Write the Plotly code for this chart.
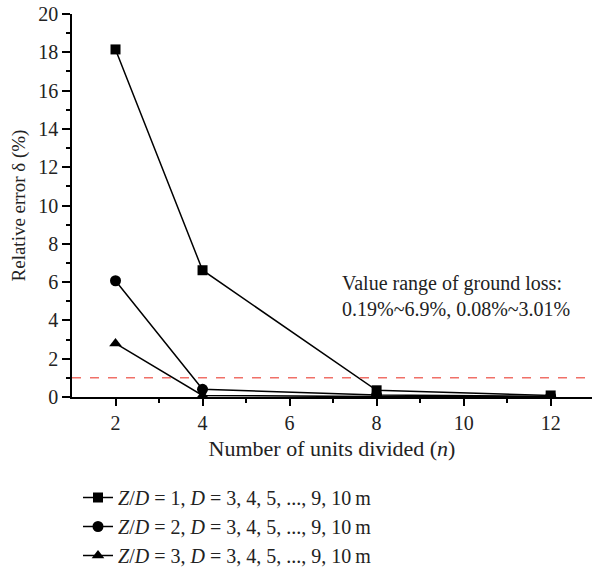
import plotly.graph_objects as go

n_units = [2, 4, 8, 12]
err_zd1 = [18.15, 6.62, 0.35, 0.08]
err_zd2 = [6.07, 0.40, 0.10, 0.03]
err_zd3 = [2.80, 0.08, 0.02, 0.01]
threshold = 1.0
names = [
    "<i>Z</i>/<i>D</i> = 1, <i>D</i> = 3, 4, 5, ..., 9, 10\u2009m",
    "<i>Z</i>/<i>D</i> = 2, <i>D</i> = 3, 4, 5, ..., 9, 10\u2009m",
    "<i>Z</i>/<i>D</i> = 3, <i>D</i> = 3, 4, 5, ..., 9, 10\u2009m",
]
symbols = ["square", "circle", "triangle-up"]
sizes = [10, 11, 11]

FONT = "Liberation Serif"
fig = go.Figure()
for ys, nm, sym, sz in zip([err_zd1, err_zd2, err_zd3], names, symbols, sizes):
    fig.add_trace(go.Scatter(
        x=n_units, y=ys, name=nm, mode="lines+markers",
        line=dict(color="black", width=1.5),
        marker=dict(symbol=sym, size=sz, color="black"),
    ))

fig.add_shape(type="line", xref="paper", yref="y", x0=0, x1=1, y0=threshold, y1=threshold,
              line=dict(color="#F07068", width=1.5, dash="dash"))

fig.add_annotation(x=7.16, y=5.3, xref="x", yref="y", xanchor="left", yanchor="middle",
                   align="left", showarrow=False,
                   text="Value range of ground loss:<br>0.19%~6.9%, 0.08%~3.01%",
                   font=dict(family=FONT, size=20, color="#222"))

fig.update_layout(
    width=592, height=567,
    margin=dict(l=72, r=0, t=14, b=170, autoexpand=False),
    paper_bgcolor="white", plot_bgcolor="white",
    font=dict(family=FONT, size=20, color="#222"),
    showlegend=True,
    legend=dict(x=(78-72)/520, y=-(478-397)/383,
                xanchor="left", yanchor="top", font=dict(family=FONT, size=20),
                bgcolor="rgba(0,0,0,0)", tracegroupgap=0),
    xaxis=dict(range=[1, 12.95], tickvals=[2, 4, 6, 8, 10, 12], ticks="outside", ticklen=7,
               tickwidth=1.5, tickcolor="black",
               minor=dict(tickvals=[3, 5, 7, 9, 11], ticks="outside", ticklen=4, tickwidth=1.5, tickcolor="black"),
               showline=True, linecolor="black", linewidth=1.5, showgrid=False, zeroline=False,
               title=dict(text="Number of units divided (<i>n</i>)", standoff=8, font=dict(size=22)),
               tickfont=dict(size=20)),
    yaxis=dict(range=[0, 20], tickvals=list(range(0, 21, 2)), ticks="outside", ticklen=8,
               tickwidth=1.5, tickcolor="black",
               minor=dict(tickvals=list(range(1, 20, 2)), ticks="outside", ticklen=4, tickwidth=1.5, tickcolor="black"),
               showline=True, linecolor="black", linewidth=1.5, showgrid=False, zeroline=False,
               title=dict(text="Relative error \u03b4 (%)", standoff=8, font=dict(size=19)),
               tickfont=dict(size=20)),
)

fig.write_html("out.html")
